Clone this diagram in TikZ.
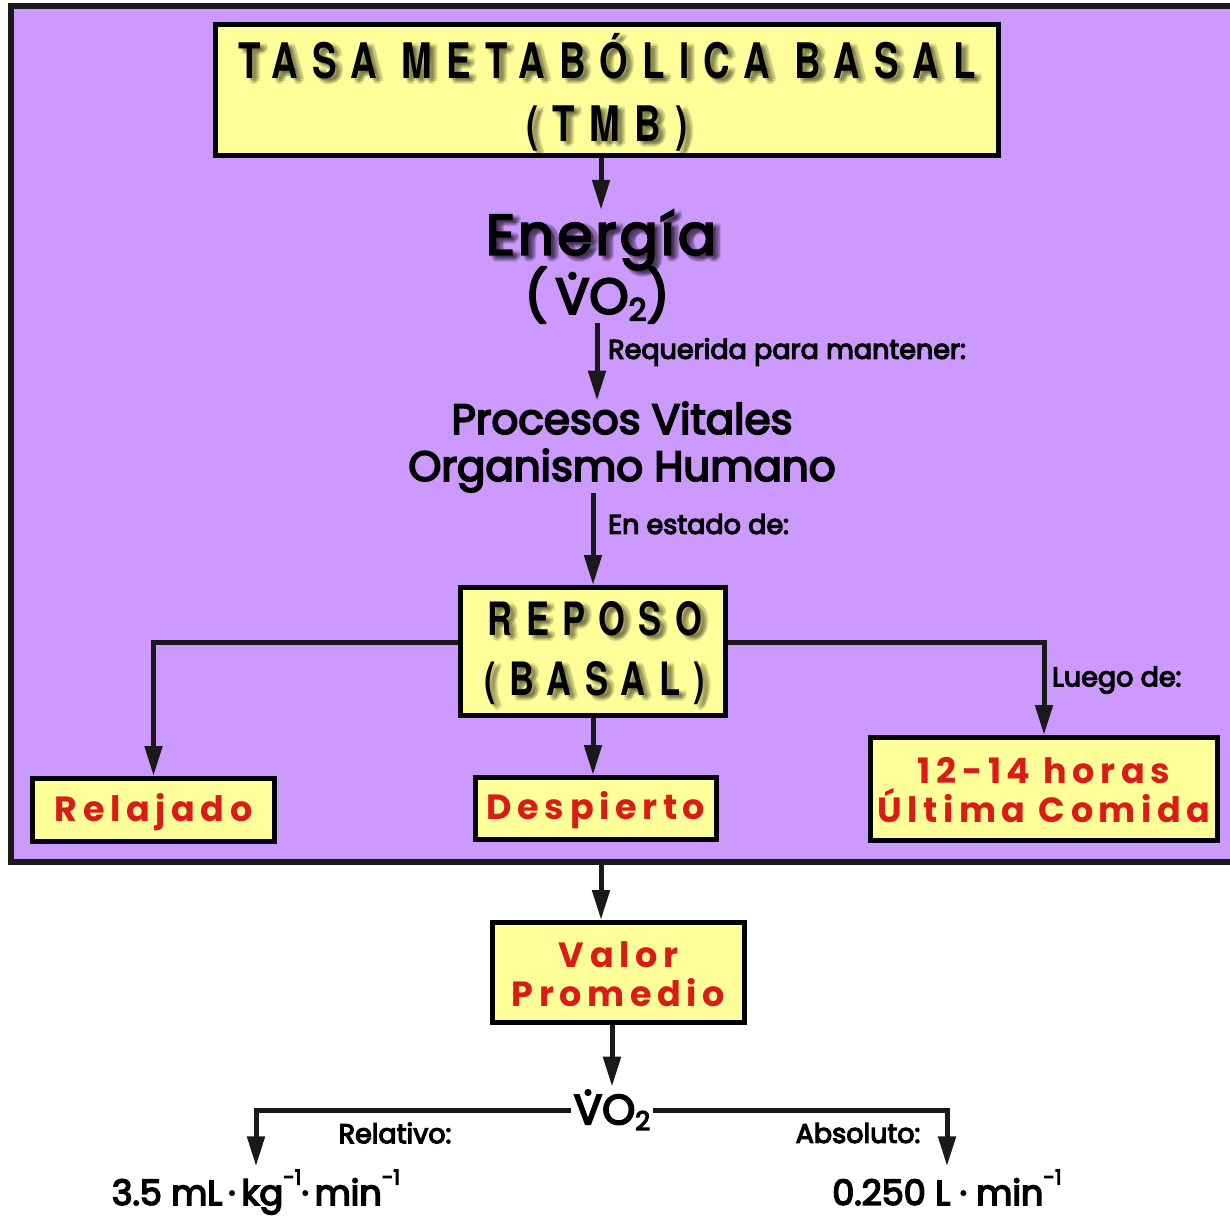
\documentclass[tikz,border=0pt]{standalone}
\usepackage{fontspec}
\usepackage{graphicx}
\setmainfont{Poppins}
\newfontfamily\condf{TeX Gyre Heros}[FakeStretch=0.75,LetterSpace=29]
\newfontfamily\medf{Poppins}[FakeBold=4.5]
\newfontfamily\enf{Poppins}[FakeBold=3.5,LetterSpace=5]
\newfontfamily\redf{Poppins}[LetterSpace=16]
\usetikzlibrary{arrows.meta,calc}
\definecolor{bgpurple}{RGB}{204,153,255}
\definecolor{boxyellow}{RGB}{255,255,153}
\definecolor{txtred}{RGB}{218,28,24}
\newcommand\vdot{\leavevmode\setbox0\hbox{V}\rlap{\hbox to\wd0{\hss\raisebox{0.7em}{.}\hss}}V}
\newcommand\subtwo{\raisebox{-0.14em}{\scalebox{0.62}{2}}}
\newcommand\supm{\raisebox{0.58em}{\scalebox{0.6}{-1}}}
\newcommand\shadowed[4]{%
  \foreach \dx/\dy [count=\k] in {2/-2,4/-3,6/-4,8/-3,5/-6,3/-5,7/-1}{
    \node[#3, text=black, text opacity=0.1, name=#1sh\k] at ([shift={(\dx pt,\dy pt)}]#2) {#4};
  }
  \node[#3, name=#1] at (#2) {#4};
}
\tikzset{
  box/.style={draw=black, line width=5pt, fill=boxyellow, inner sep=0pt},
  arr/.style={line width=5pt, draw=black!90, -{Triangle[length=30pt,width=17pt]}},
  title/.style={font=\condf\bfseries\fontsize{49}{63}\selectfont, align=center, inner sep=0pt},
  ptitle/.style={font=\condf\bfseries\fontsize{46}{60}\selectfont, align=center, inner sep=0pt},
  redt/.style={font=\redf\bfseries\fontsize{35}{39}\selectfont, text=txtred, align=center, inner sep=0pt},
  lab/.style={font=\medf\fontsize{27}{30}\selectfont, inner sep=0pt},
  big/.style={font=\medf\fontsize{42}{47}\selectfont, align=center, inner sep=1pt},
  enstyle/.style={font=\enf\fontsize{57}{60}\selectfont, inner sep=0pt},
  numt/.style={font=\medf\fontsize{35}{38}\selectfont, inner sep=3pt, anchor=base},
}
\begin{document}
\begin{tikzpicture}[x=1pt,y=-1pt]
\useasboundingbox (0,0) rectangle (1230,1215);
\fill[white] (0,0) rectangle (1230,1215);
% frame
\fill[bgpurple] (11,6) rectangle (1230,862);
\draw[line width=6pt, black!90] (1232,6) -- (11,6) -- (11,862) -- (1232,862);
% boxes
\node[box, minimum width=783pt, minimum height=131pt] (tmb) at (607,90) {};
\shadowed{tmbt}{607,92}{title}{TASA METABÓLICA BASAL\\(TMB)}
\shadowed{en1}{601,240}{enstyle}{Energía}
\node[font=\medf\fontsize{50}{56}\selectfont, inner sep=0pt] (en2) at (597,295) {(\hspace{8pt}\vdot O\subtwo)};
\node[lab, anchor=west] (req) at (608,352) {Requerida para mantener:};
\node[big] (proc) at (622,447) {Procesos Vitales\\Organismo Humano};
\node[lab, anchor=west] (est) at (608,524) {En estado de:};
\node[box, minimum width=265pt, minimum height=128pt] (rep) at (593,651.5) {};
\shadowed{rept}{595,653}{ptitle}{REPOSO\\(BASAL)}
\node[box, minimum width=242pt, minimum height=63pt] (relj) at (153.5,810) {};
\node[redt] (reljt) at (153.5,812) {Relajado};
\node[box, minimum width=241pt, minimum height=62pt] (desp) at (596,808.5) {};
\node[redt] (despt) at (596,810) {Despierto};
\node[box, minimum width=347pt, minimum height=103pt] (ult) at (1044,789) {};
\node[redt] (ultt) at (1044,790) {12-14 horas\\Última Comida};
\node[lab, anchor=west] (lue) at (1052,680) {Luego de:};
\node[box, minimum width=252pt, minimum height=100pt] (val) at (618.5,972.5) {};
\node[redt] (valt) at (618.5,974) {Valor\\Promedio};
\node[font=\medf\fontsize{42}{46}\selectfont, inner sep=3pt] (vo2) at (612,1110) {\vdot O\subtwo};
\node[lab] (relL) at (395,1133) {Relativo:};
\node[lab] (absL) at (858,1133) {Absoluto:};
\node[numt] (rel) at (256,1205) {3.5 mL\,·\,kg\supm·\,min\supm};
\node[numt] (abs) at (947,1205) {0.250 L · min\supm};
% connectors
\draw[arr] (tmb.south -| en1.north) -- (en1.north);
\draw[arr] (en2.south) -- (en2.south |- proc.north);
\draw[arr] (proc.south -| rep.north) -- (rep.north);
\draw[arr] ([yshift=9pt]rep.west) -| (relj.north);
\draw[arr] ([yshift=9pt]rep.east) -| (ult.north);
\draw[arr] (rep.south) -- (rep.south |- desp.north);
\coordinate (fb) at (601,865);
\draw[arr] (fb) -- (fb |- val.north);
\draw[arr] (val.south -| vo2.north) -- (vo2.north);
\draw[arr] (vo2.west) -| (rel.north);
\draw[arr] (vo2.east) -| (abs.north);
\end{tikzpicture}
\end{document}
